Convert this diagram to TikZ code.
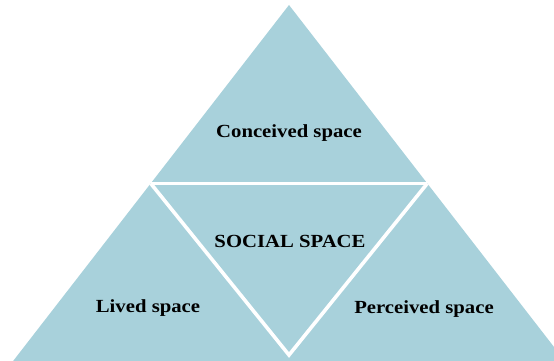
\documentclass[tikz,border=0pt]{standalone}
\usepackage{fontspec}
\setmainfont{Liberation Serif}[FakeStretch=1.12]
\usetikzlibrary{positioning}
\definecolor{pyrblue}{RGB}{168,209,219}
\tikzset{
    space label/.style={font=\bfseries\fontsize{18.5}{21}\selectfont, text=black},
    gap line/.style={white, line width=3.6pt, line join=miter}
}

\begin{document}
\begin{tikzpicture}[x=1pt,y=-1pt]
  \useasboundingbox (0,0) rectangle (554,361);
  \clip (0,0) rectangle (554,361);
  % corners of the pyramid
  \coordinate (apex) at (289,5);
  \coordinate (baseL) at (4.6,372);
  \coordinate (baseR) at (573.4,372);
  \coordinate (midL) at (150.7,183.4);
  \coordinate (midR) at (427.3,183.4);
  \coordinate (midB) at (289,355);
  \fill[pyrblue] (apex) -- (baseL) -- (baseR) -- cycle;
  \draw[gap line] (midL) -- (midR);
  \draw[gap line] (midL) -- (midB) -- (midR);
  % labels
  \node[space label] (conceived) at (289,133) {Conceived space};
  \node[space label] (social) at (290,241) {SOCIAL SPACE};
  \node[space label] (lived) at (148,308) {Lived space};
  \node[space label] (perceived) at (424,309) {Perceived space};
\end{tikzpicture}
\end{document}
